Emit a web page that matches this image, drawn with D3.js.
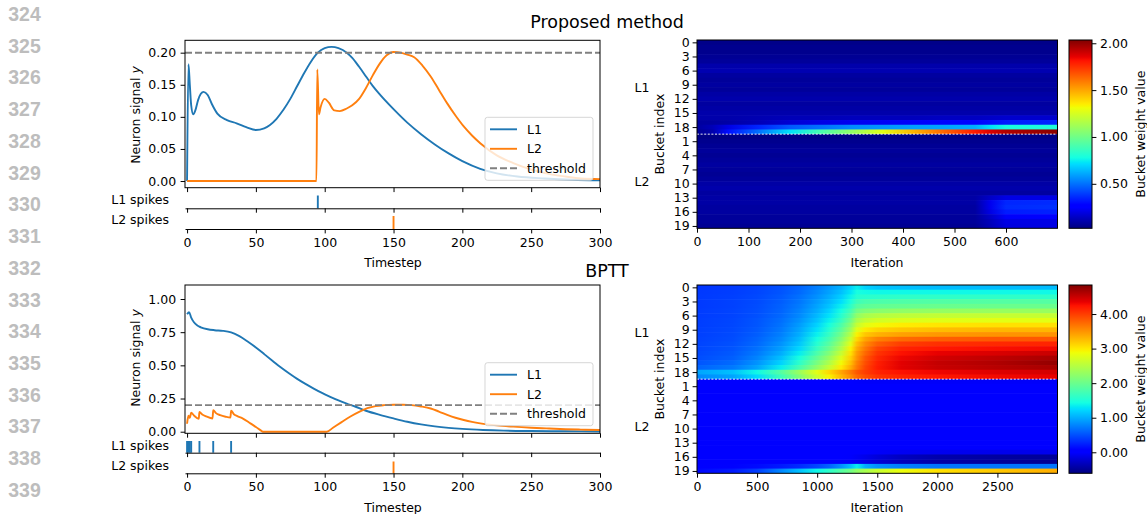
<!DOCTYPE html>
<html>
<head>
<meta charset="utf-8">
<script src="https://cdn.jsdelivr.net/npm/d3@7"></script>
<style>
  body { margin: 0; background: #fff; }
  svg { display: block; font-family: "DejaVu Sans", sans-serif; }
</style>
</head>
<body>
<svg id="fig" width="1147" height="514"></svg>
<script>
// ---------------- data ----------------
const lineNumbers = ["324","325","326","327","328","329","330","331","332","333","334","335","336","337","338","339"];

const timestepTicks = [0, 50, 100, 150, 200, 250, 300];
const threshold = 0.2;

// Proposed method: neuron signals [timestep, y]
const proposedL1 = [[0,0],[1,0.182],[2,0.15],[3,0.118],[4.5,0.104],[6,0.11],[8,0.126],[10,0.136],[12,0.139],[15,0.134],[18,0.12],[22,0.105],[29,0.095],[36,0.09],[43,0.084],[50,0.0795],[56,0.082],[60,0.087],[65,0.097],[70,0.111],[75,0.128],[80,0.148],[85,0.168],[90,0.186],[95,0.2],[100,0.207],[105,0.209],[110,0.207],[116,0.2],[120,0.192],[125,0.178],[130,0.163],[135,0.148],[140,0.135],[150,0.112],[160,0.091],[170,0.073],[180,0.057],[190,0.043],[200,0.031],[213,0.019],[225,0.012],[240,0.007],[260,0.004],[280,0.002],[300,0.001]];
const proposedL2 = [[0,0],[94,0],[94.6,0.174],[95.8,0.104],[97,0.115],[100,0.128],[103,0.122],[107,0.11],[111,0.109],[116,0.113],[120,0.118],[125,0.128],[130,0.145],[135,0.165],[140,0.183],[145,0.196],[150,0.201],[155,0.2],[160,0.197],[165,0.193],[171,0.18],[177,0.163],[183,0.142],[189,0.121],[195,0.102],[201,0.085],[207,0.071],[213,0.059],[225,0.04],[237,0.028],[250,0.018],[261,0.012],[275,0.007],[286,0.004],[300,0.003]];
const proposedSpikesL1 = [95];
const proposedSpikesL2 = [150];

// BPTT: neuron signals [timestep, y]
const bpttL1 = [[0,0.885],[1.5,0.9],[3,0.86],[5,0.825],[7.5,0.8],[10,0.787],[15,0.772],[20,0.765],[26,0.76],[32,0.748],[38,0.72],[44,0.68],[50,0.635],[56,0.585],[62,0.535],[68,0.485],[74,0.44],[80,0.398],[86,0.36],[92,0.325],[98,0.292],[104,0.263],[110,0.236],[116,0.212],[122,0.19],[130,0.158],[140,0.127],[150,0.1],[160,0.075],[170,0.055],[180,0.04],[190,0.029],[200,0.021],[215,0.013],[230,0.008],[250,0.005],[275,0.003],[300,0.002]];
const bpttL2 = [[0,0.06],[1,0.12],[2,0.105],[3,0.143],[5,0.122],[8.5,0.098],[9,0.148],[11,0.13],[14,0.115],[18.5,0.1],[19,0.163],[21,0.14],[24,0.125],[28,0.113],[31.5,0.107],[32,0.158],[34,0.132],[36.5,0.118],[40,0.103],[46,0.063],[50,0.035],[54.5,0.003],[55,0],[101.5,0],[106,0.03],[112,0.07],[118.7,0.115],[125,0.15],[131,0.177],[137,0.193],[143,0.2],[150,0.203],[157,0.203],[163,0.2],[170,0.19],[177,0.175],[183,0.152],[189,0.127],[195,0.105],[201,0.088],[207,0.074],[213,0.063],[225,0.048],[237,0.038],[250,0.03],[261,0.025],[275,0.019],[286,0.016],[300,0.013]];
const bpttSpikesL1 = [0, 1, 2, 3, 9, 19, 32];
const bpttSpikesL2 = [150];

const proposedYTicks = [0, 0.05, 0.10, 0.15, 0.20];
const bpttYTicks = [0, 0.25, 0.5, 0.75, 1.0];

// Bucket weights: 20 L1 buckets followed by 20 L2 buckets
const bucketTickRows = [0, 3, 6, 9, 12, 15, 18, 21, 24, 27, 30, 33, 36, 39];
const bucketTickLabels = ["0","3","6","9","12","15","18","1","4","7","10","13","16","19"];

const proposedIters = [0, 30, 60, 120, 180, 240, 300, 360, 420, 480, 540, 570, 600, 700];
const proposedIterTicks = [0, 100, 200, 300, 400, 500, 600];
const proposedRange = [0.025, 2.035];
const proposedCbTicks = [0.5, 1.0, 1.5, 2.0];
const proposedL1Weights = [
  [0.04,0.04,0.04,0.04,0.04,0.04,0.04,0.04,0.04,0.04,0.04,0.04,0.04,0.04],
  [0.05,0.05,0.05,0.05,0.05,0.05,0.05,0.05,0.05,0.05,0.05,0.05,0.05,0.05],
  [0.05,0.05,0.05,0.05,0.05,0.05,0.05,0.05,0.05,0.05,0.05,0.05,0.05,0.05],
  [0.06,0.06,0.06,0.06,0.06,0.06,0.06,0.06,0.06,0.06,0.06,0.06,0.06,0.06],
  [0.07,0.07,0.07,0.07,0.07,0.07,0.07,0.07,0.07,0.07,0.07,0.07,0.07,0.07],
  [0.10,0.10,0.10,0.10,0.10,0.10,0.10,0.10,0.10,0.10,0.10,0.10,0.10,0.10],
  [0.11,0.11,0.11,0.11,0.11,0.11,0.11,0.11,0.11,0.11,0.11,0.11,0.11,0.11],
  [0.08,0.08,0.08,0.08,0.08,0.08,0.08,0.08,0.08,0.08,0.08,0.08,0.08,0.08],
  [0.07,0.07,0.07,0.07,0.07,0.07,0.07,0.07,0.07,0.07,0.07,0.07,0.07,0.07],
  [0.08,0.08,0.08,0.08,0.08,0.08,0.08,0.08,0.08,0.08,0.08,0.08,0.08,0.08],
  [0.07,0.07,0.07,0.07,0.07,0.07,0.07,0.07,0.07,0.07,0.07,0.07,0.07,0.07],
  [0.09,0.09,0.09,0.09,0.09,0.09,0.09,0.09,0.09,0.09,0.09,0.09,0.09,0.09],
  [0.10,0.10,0.10,0.10,0.10,0.10,0.10,0.10,0.10,0.10,0.10,0.10,0.10,0.10],
  [0.08,0.08,0.08,0.08,0.08,0.08,0.08,0.08,0.08,0.08,0.08,0.08,0.08,0.08],
  [0.09,0.09,0.09,0.09,0.09,0.09,0.09,0.09,0.09,0.09,0.09,0.09,0.09,0.09],
  [0.10,0.10,0.10,0.10,0.10,0.10,0.10,0.10,0.10,0.10,0.10,0.10,0.10,0.10],
  [0.10,0.10,0.10,0.11,0.12,0.12,0.13,0.13,0.13,0.14,0.14,0.15,0.16,0.16],
  [0.08,0.08,0.09,0.12,0.17,0.20,0.22,0.23,0.24,0.25,0.27,0.30,0.33,0.35],
  [0.08,0.12,0.20,0.35,0.45,0.50,0.55,0.57,0.59,0.60,0.62,0.72,0.78,0.80],
  [0.06,0.10,0.30,0.50,0.72,0.90,1.08,1.28,1.47,1.64,1.80,1.88,1.95,2.02]
];
const proposedL2Weights = [
  [0.035,0.035,0.035,0.035,0.035,0.035,0.035,0.035,0.035,0.035,0.035,0.035,0.035,0.035],
  [0.05,0.05,0.05,0.05,0.05,0.05,0.05,0.05,0.05,0.05,0.05,0.05,0.05,0.05],
  [0.06,0.06,0.06,0.06,0.06,0.06,0.06,0.06,0.06,0.06,0.06,0.06,0.06,0.06],
  [0.07,0.07,0.07,0.07,0.07,0.07,0.07,0.07,0.07,0.07,0.07,0.07,0.07,0.07],
  [0.06,0.06,0.06,0.06,0.06,0.06,0.06,0.06,0.06,0.06,0.06,0.06,0.06,0.06],
  [0.07,0.07,0.07,0.07,0.07,0.07,0.07,0.07,0.07,0.07,0.07,0.07,0.07,0.07],
  [0.08,0.08,0.08,0.08,0.08,0.08,0.08,0.08,0.08,0.08,0.08,0.08,0.08,0.08],
  [0.07,0.07,0.07,0.07,0.07,0.07,0.07,0.07,0.07,0.07,0.07,0.07,0.07,0.07],
  [0.06,0.06,0.06,0.06,0.06,0.06,0.06,0.06,0.06,0.06,0.06,0.06,0.06,0.06],
  [0.07,0.07,0.07,0.07,0.07,0.07,0.07,0.07,0.07,0.07,0.07,0.07,0.07,0.07],
  [0.09,0.09,0.09,0.09,0.09,0.09,0.09,0.09,0.09,0.09,0.09,0.09,0.09,0.09],
  [0.10,0.10,0.10,0.10,0.10,0.10,0.10,0.10,0.10,0.10,0.10,0.10,0.10,0.10],
  [0.08,0.08,0.08,0.08,0.08,0.08,0.08,0.08,0.08,0.08,0.08,0.08,0.08,0.08],
  [0.09,0.09,0.09,0.09,0.09,0.09,0.09,0.09,0.09,0.09,0.09,0.15,0.20,0.20],
  [0.09,0.09,0.09,0.09,0.09,0.09,0.09,0.09,0.09,0.09,0.09,0.22,0.35,0.36],
  [0.08,0.08,0.08,0.08,0.08,0.08,0.08,0.08,0.08,0.08,0.08,0.22,0.36,0.37],
  [0.08,0.08,0.08,0.08,0.08,0.08,0.08,0.08,0.08,0.08,0.08,0.20,0.33,0.34],
  [0.07,0.07,0.07,0.07,0.07,0.07,0.07,0.07,0.07,0.07,0.07,0.15,0.24,0.25],
  [0.07,0.07,0.07,0.07,0.07,0.07,0.07,0.07,0.07,0.07,0.07,0.13,0.20,0.20],
  [0.06,0.06,0.06,0.06,0.06,0.06,0.06,0.06,0.06,0.06,0.06,0.12,0.19,0.20]
];

const bpttIters = [0, 300, 500, 700, 850, 1000, 1100, 1200, 1280, 1330, 1400, 1500, 1700, 2000, 2500, 3000];
const bpttIterTicks = [0, 500, 1000, 1500, 2000, 2500];
const bpttRange = [-0.608, 4.84];
const bpttCbTicks = [0, 1, 2, 3, 4];
const bpttL1Weights = [
  [0.35,0.38,0.42,0.50,0.60,0.75,0.88,1.02,1.20,1.35,1.20,1.12,1.10,1.08,1.08,1.08],
  [0.37,0.40,0.44,0.52,0.63,0.80,0.94,1.10,1.30,1.45,1.42,1.40,1.40,1.40,1.40,1.40],
  [0.38,0.41,0.46,0.55,0.67,0.85,1.00,1.18,1.38,1.55,1.57,1.58,1.60,1.60,1.60,1.60],
  [0.38,0.42,0.47,0.57,0.70,0.90,1.06,1.26,1.48,1.70,1.78,1.80,1.82,1.84,1.85,1.85],
  [0.38,0.42,0.48,0.59,0.73,0.95,1.12,1.35,1.60,1.85,1.92,1.95,1.97,1.99,2.00,2.00],
  [0.39,0.43,0.49,0.61,0.77,1.00,1.20,1.45,1.75,2.05,2.15,2.20,2.25,2.28,2.30,2.30],
  [0.39,0.43,0.50,0.63,0.80,1.06,1.28,1.55,1.90,2.25,2.40,2.48,2.54,2.58,2.60,2.60],
  [0.40,0.44,0.52,0.66,0.85,1.12,1.36,1.66,2.05,2.42,2.58,2.68,2.74,2.78,2.80,2.80],
  [0.40,0.45,0.53,0.69,0.90,1.20,1.45,1.80,2.20,2.60,2.80,2.90,2.98,3.02,3.05,3.05],
  [0.41,0.46,0.55,0.72,0.95,1.28,1.55,1.92,2.35,2.78,3.00,3.12,3.20,3.26,3.30,3.30],
  [0.41,0.47,0.57,0.76,1.00,1.36,1.65,2.05,2.50,2.95,3.20,3.32,3.42,3.47,3.50,3.50],
  [0.42,0.48,0.60,0.80,1.06,1.45,1.76,2.18,2.65,3.10,3.40,3.60,3.74,3.80,3.84,3.85],
  [0.43,0.50,0.63,0.86,1.13,1.55,1.88,2.32,2.80,3.25,3.55,3.80,4.00,4.08,4.12,4.15],
  [0.44,0.52,0.67,0.92,1.22,1.66,2.00,2.45,2.95,3.35,3.65,3.95,4.15,4.22,4.27,4.30],
  [0.46,0.55,0.72,1.00,1.33,1.80,2.15,2.60,3.05,3.45,3.75,4.05,4.25,4.35,4.42,4.50],
  [0.48,0.58,0.78,1.10,1.45,1.95,2.30,2.75,3.15,3.50,3.85,4.12,4.32,4.45,4.55,4.65],
  [0.52,0.64,0.86,1.20,1.58,2.10,2.45,2.90,3.25,3.60,3.90,4.18,4.38,4.52,4.62,4.75],
  [0.60,0.72,0.95,1.35,1.75,2.25,2.60,3.00,3.35,3.65,3.95,4.20,4.38,4.50,4.58,4.65],
  [0.95,1.10,1.40,1.85,2.30,2.80,3.10,3.40,3.65,3.85,4.00,4.15,4.25,4.32,4.40,4.45],
  [0.80,0.95,1.25,1.70,2.15,2.65,2.95,3.30,3.55,3.75,3.90,4.05,4.15,4.22,4.30,4.35]
];
const bpttL2Weights = [
  [0.00,0.00,0.00,0.00,0.00,0.00,0.00,0.00,0.00,-0.02,-0.03,-0.03,-0.03,-0.03,-0.03,-0.03],
  [0.03,0.03,0.03,0.03,0.03,0.03,0.03,0.03,0.03,0.01,0.00,0.00,0.00,0.00,0.00,0.00],
  [0.05,0.05,0.05,0.05,0.05,0.05,0.05,0.05,0.05,0.03,0.02,0.02,0.02,0.02,0.02,0.02],
  [0.04,0.04,0.04,0.04,0.04,0.04,0.04,0.04,0.04,0.02,0.01,0.01,0.01,0.01,0.01,0.01],
  [0.06,0.06,0.06,0.06,0.06,0.06,0.06,0.06,0.06,0.04,0.03,0.03,0.03,0.03,0.03,0.03],
  [0.05,0.05,0.05,0.05,0.05,0.05,0.05,0.05,0.05,0.03,0.02,0.02,0.02,0.02,0.02,0.02],
  [0.04,0.04,0.04,0.04,0.04,0.04,0.04,0.04,0.04,0.02,0.01,0.01,0.01,0.01,0.01,0.01],
  [0.06,0.06,0.06,0.06,0.06,0.06,0.06,0.06,0.06,0.04,0.03,0.03,0.03,0.03,0.03,0.03],
  [0.05,0.05,0.05,0.05,0.05,0.05,0.05,0.05,0.05,0.03,0.02,0.02,0.02,0.02,0.02,0.02],
  [0.03,0.03,0.03,0.03,0.03,0.03,0.03,0.03,0.03,0.01,0.00,0.00,0.00,0.00,0.00,0.00],
  [0.05,0.05,0.05,0.05,0.05,0.05,0.05,0.05,0.05,0.03,0.02,0.02,0.02,0.02,0.02,0.02],
  [0.06,0.06,0.06,0.06,0.06,0.06,0.06,0.06,0.06,0.04,0.03,0.03,0.03,0.03,0.03,0.03],
  [0.04,0.04,0.04,0.04,0.04,0.04,0.04,0.04,0.04,0.02,0.01,0.01,0.01,0.01,0.01,0.01],
  [0.05,0.05,0.05,0.05,0.05,0.05,0.05,0.05,0.05,0.03,0.02,0.02,0.02,0.02,0.02,0.02],
  [0.04,0.04,0.04,0.04,0.04,0.04,0.04,0.04,0.04,0.02,0.01,0.01,0.01,0.01,0.01,0.01],
  [0.03,0.03,0.03,0.03,0.03,0.03,0.03,0.03,0.03,0.02,0.00,-0.03,-0.06,-0.08,-0.10,-0.10],
  [0.03,0.03,0.03,0.02,0.02,0.01,0.00,-0.01,-0.02,-0.05,-0.10,-0.18,-0.30,-0.40,-0.46,-0.50],
  [0.02,0.02,0.02,0.01,0.01,0.00,-0.01,-0.02,-0.03,-0.06,-0.12,-0.20,-0.32,-0.42,-0.48,-0.52],
  [0.05,0.08,0.12,0.20,0.30,0.45,0.60,0.85,1.10,1.35,1.00,0.85,0.75,0.70,0.70,0.70],
  [0.10,0.20,0.40,0.80,1.10,1.40,1.60,1.85,2.05,2.25,2.40,2.60,2.85,3.05,3.20,3.35]
];

// ---------------- drawing ----------------
const svg = d3.select("#fig");
const defs = svg.append("defs");
const C0 = "#1f77b4", C1 = "#ff7f0e", GRAY = "#808080";
const FS = 12.5;
const TICK = 4.4;

// matplotlib "jet" colormap as piecewise-linear RGB
const jetStops = [0, 0.11, 0.125, 0.34, 0.35, 0.375, 0.64, 0.65, 0.66, 0.89, 0.91, 1];
const jetColors = ["rgb(0,0,128)","rgb(0,0,255)","rgb(0,0,255)","rgb(0,219,255)","rgb(0,230,247)","rgb(21,255,226)","rgb(239,255,8)","rgb(247,246,0)","rgb(255,236,0)","rgb(255,19,0)","rgb(232,0,0)","rgb(128,0,0)"];
const jet = d3.scaleLinear().domain(jetStops).range(jetColors).interpolate(d3.interpolateRgb).clamp(true);

function styleAxis(g) {
  g.attr("font-size", FS).attr("font-family", "DejaVu Sans, sans-serif");
  g.selectAll("line").attr("stroke", "#000").attr("stroke-width", 1);
  g.selectAll("path.domain").attr("stroke", "#000").attr("stroke-width", 1);
  g.selectAll("text").attr("fill", "#000");
}

// page line numbers in the left margin
svg.append("g").selectAll("text").data(lineNumbers).join("text")
  .attr("x", 24.5).attr("y", (d, i) => 14 + i * 31.73)
  .attr("text-anchor", "middle").attr("dominant-baseline", "central")
  .attr("font-family", "Liberation Sans, Arial, sans-serif").attr("font-weight", "bold")
  .attr("font-size", 19.5).attr("fill", "#bdbdbd").text(d => d);

function drawLinePanel(p) {
  const x = d3.scaleLinear().domain([-1.5, 300]).range([185, 600]);
  const y = d3.scaleLinear().domain(p.yDomain).range([p.y1, p.y0]);
  const clipId = p.id + "-clip";
  defs.append("clipPath").attr("id", clipId).append("rect")
    .attr("x", 185).attr("y", p.y0).attr("width", 415).attr("height", p.y1 - p.y0);

  const g = svg.append("g");
  const plot = g.append("g").attr("clip-path", `url(#${clipId})`);
  const line = d3.line().x(d => x(d[0])).y(d => y(d[1])).curve(d3.curveMonotoneX);
  plot.append("path").datum(p.l1).attr("d", line).attr("fill", "none").attr("stroke", C0).attr("stroke-width", 1.9);
  plot.append("path").datum(p.l2).attr("d", line).attr("fill", "none").attr("stroke", C1).attr("stroke-width", 1.9);
  plot.append("line").attr("x1", 185).attr("x2", 600).attr("y1", y(threshold)).attr("y2", y(threshold))
    .attr("stroke", GRAY).attr("stroke-width", 1.9).attr("stroke-dasharray", "7,3");

  // axes
  const ax = g.append("g").attr("transform", `translate(0,${p.y1})`)
    .call(d3.axisBottom(x).tickValues(timestepTicks).tickSize(TICK).tickSizeOuter(0).tickFormat(""));
  ax.select(".domain").remove();
  styleAxis(ax);
  const ay = g.append("g").attr("transform", "translate(185,0)")
    .call(d3.axisLeft(y).tickValues(p.yTicks).tickSize(TICK).tickPadding(4.4).tickSizeOuter(0).tickFormat(d3.format(".2f")));
  ay.select(".domain").remove();
  styleAxis(ay);
  g.append("rect").attr("x", 185).attr("y", p.y0).attr("width", 415).attr("height", p.y1 - p.y0)
    .attr("fill", "none").attr("stroke", "#000").attr("stroke-width", 1);

  g.append("text").attr("transform", `translate(135,${p.labelY}) rotate(-90)`)
    .attr("text-anchor", "middle").attr("dominant-baseline", "central").attr("font-size", FS)
    .text("Neuron signal ").append("tspan").attr("font-style", "italic").text("y");

  // legend
  const lg = g.append("g").attr("transform", `translate(485,${p.legendTop})`);
  lg.append("rect").attr("width", 108).attr("height", 63).attr("rx", 2.5)
    .attr("fill", "#fff").attr("fill-opacity", 0.8).attr("stroke", "#cccccc").attr("stroke-opacity", 0.8);
  const entries = [["L1", C0, null], ["L2", C1, null], ["threshold", GRAY, "7,3"]];
  entries.forEach((e, i) => {
    const yy = 12 + i * 19.5;
    lg.append("line").attr("x1", 5).attr("x2", 32).attr("y1", yy).attr("y2", yy)
      .attr("stroke", e[1]).attr("stroke-width", 1.9).attr("stroke-dasharray", e[2]);
    lg.append("text").attr("x", 42).attr("y", yy).attr("dominant-baseline", "central")
      .attr("font-size", FS).text(e[0]);
  });

  // spike rasters
  [[p.s1, p.spk1, C0, "L1 spikes", false], [p.s2, p.spk2, C1, "L2 spikes", true]].forEach(s => {
    const [times, band, col, label, showLabels] = s;
    g.append("g").selectAll("line").data(times).join("line")
      .attr("x1", d => x(d)).attr("x2", d => x(d)).attr("y1", band[0]).attr("y2", band[1])
      .attr("stroke", col).attr("stroke-width", 1.9);
    const a = g.append("g").attr("transform", `translate(0,${band[1]})`)
      .call(d3.axisBottom(x).tickValues(timestepTicks).tickSize(TICK).tickPadding(4.4).tickSizeOuter(0)
        .tickFormat(showLabels ? d3.format("d") : ""));
    styleAxis(a);
    g.append("text").attr("x", 169).attr("y", band[2]).attr("text-anchor", "end")
      .attr("dominant-baseline", "central").attr("font-size", FS).text(label);
  });

  g.append("text").attr("x", 393).attr("y", p.xLabelY).attr("text-anchor", "middle")
    .attr("dominant-baseline", "central").attr("font-size", FS).text("Timestep");
  g.append("text").attr("x", 607).attr("y", p.titleY).attr("text-anchor", "middle")
    .attr("font-size", 17.5).text(p.title);
}

function drawHeatPanel(p) {
  const x0 = 697, x1 = 1057.5;
  const x = d3.scaleLinear().domain([0, p.xMax]).range([x0, x1]);
  const yRow = d3.scaleLinear().domain([-0.5, 39.5]).range([p.y0, p.y1]);
  const norm = d3.scaleLinear().domain(p.range).range([0, 1]);
  const color = v => jet(norm(v));
  const rows = p.l1.concat(p.l2);
  const g = svg.append("g");

  rows.forEach((vals, i) => {
    const gid = `${p.id}-row${i}`;
    const grad = defs.append("linearGradient").attr("id", gid).attr("gradientUnits", "userSpaceOnUse")
      .attr("x1", x0).attr("x2", x1).attr("y1", 0).attr("y2", 0);
    p.iters.forEach((it, j) => {
      grad.append("stop").attr("offset", it / p.xMax).attr("stop-color", color(vals[j]));
    });
    const top = yRow(i - 0.5), bot = yRow(i + 0.5);
    g.append("rect").attr("x", x0).attr("y", top).attr("width", x1 - x0)
      .attr("height", bot - top + (i < 39 ? 0.6 : 0)).attr("fill", `url(#${gid})`);
  });

  g.append("line").attr("x1", x0).attr("x2", x1).attr("y1", yRow(19.5)).attr("y2", yRow(19.5))
    .attr("stroke", "#fff").attr("stroke-width", 0.9).attr("stroke-dasharray", "2,1.6");
  g.append("rect").attr("x", x0).attr("y", p.y0).attr("width", x1 - x0).attr("height", p.y1 - p.y0)
    .attr("fill", "none").attr("stroke", "#000").attr("stroke-width", 1);

  const ax = g.append("g").attr("transform", `translate(0,${p.y1})`)
    .call(d3.axisBottom(x).tickValues(p.xTicks).tickSize(TICK).tickPadding(4.4).tickSizeOuter(0).tickFormat(d3.format("d")));
  ax.select(".domain").remove();
  styleAxis(ax);
  const ay = g.append("g").attr("transform", `translate(${x0},0)`)
    .call(d3.axisLeft(yRow).tickValues(bucketTickRows).tickSize(TICK).tickPadding(3).tickSizeOuter(0)
      .tickFormat((d, i) => bucketTickLabels[i]));
  ay.select(".domain").remove();
  styleAxis(ay);

  g.append("text").attr("x", 877).attr("y", p.xLabelY).attr("text-anchor", "middle")
    .attr("dominant-baseline", "central").attr("font-size", FS).text("Iteration");
  g.append("text").attr("transform", `translate(659,${(p.y0 + p.y1) / 2}) rotate(-90)`)
    .attr("text-anchor", "middle").attr("dominant-baseline", "central").attr("font-size", FS).text("Bucket index");
  g.append("text").attr("x", 642).attr("y", yRow(9.5)).attr("text-anchor", "middle")
    .attr("dominant-baseline", "central").attr("font-size", FS).text("L1");
  g.append("text").attr("x", 642).attr("y", yRow(29.5)).attr("text-anchor", "middle")
    .attr("dominant-baseline", "central").attr("font-size", FS).text("L2");

  // colorbar
  const cx0 = 1069, cx1 = 1092;
  const cy = d3.scaleLinear().domain(p.range).range([p.y1, p.y0]);
  const cid = `${p.id}-cbar`;
  const cg = defs.append("linearGradient").attr("id", cid).attr("gradientUnits", "userSpaceOnUse")
    .attr("x1", 0).attr("x2", 0).attr("y1", p.y1).attr("y2", p.y0);
  jetStops.forEach((s, i) => cg.append("stop").attr("offset", s).attr("stop-color", jetColors[i]));
  g.append("rect").attr("x", cx0).attr("y", p.y0).attr("width", cx1 - cx0).attr("height", p.y1 - p.y0)
    .attr("fill", `url(#${cid})`).attr("stroke", "#000").attr("stroke-width", 1);
  const ac = g.append("g").attr("transform", `translate(${cx1},0)`)
    .call(d3.axisRight(cy).tickValues(p.cbTicks).tickSize(TICK).tickPadding(3.6).tickSizeOuter(0).tickFormat(d3.format(".2f")));
  ac.select(".domain").remove();
  styleAxis(ac);
  g.append("text").attr("transform", `translate(1140,${(p.y0 + p.y1) / 2}) rotate(-90)`)
    .attr("text-anchor", "middle").attr("dominant-baseline", "central").attr("font-size", FS).text("Bucket weight value");
}

drawLinePanel({
  id: "prop", title: "Proposed method", titleY: 28,
  y0: 40.3, y1: 187.7, yDomain: [-0.0104, 0.2193], yTicks: proposedYTicks,
  l1: proposedL1, l2: proposedL2, s1: proposedSpikesL1, s2: proposedSpikesL2,
  spk1: [195.5, 208.3, 199.5], spk2: [216, 229, 219.5],
  labelY: 115, legendTop: 117.3, xLabelY: 262.5
});
drawLinePanel({
  id: "bptt", title: "BPTT", titleY: 276.5,
  y0: 285, y1: 433.3, yDomain: [-0.012, 1.1055], yTicks: bpttYTicks,
  l1: bpttL1, l2: bpttL2, s1: bpttSpikesL1, s2: bpttSpikesL2,
  spk1: [441, 452.7, 445.5], spk2: [461.5, 473.3, 465],
  labelY: 358, legendTop: 362.7, xLabelY: 507.5
});
drawHeatPanel({
  id: "hp", y0: 40, y1: 228.3, xMax: 700, iters: proposedIters, xTicks: proposedIterTicks,
  l1: proposedL1Weights, l2: proposedL2Weights, range: proposedRange, cbTicks: proposedCbTicks,
  xLabelY: 262.5
});
drawHeatPanel({
  id: "hb", y0: 285, y1: 473.3, xMax: 3000, iters: bpttIters, xTicks: bpttIterTicks,
  l1: bpttL1Weights, l2: bpttL2Weights, range: bpttRange, cbTicks: bpttCbTicks,
  xLabelY: 507.5
});
</script>
</body>
</html>
